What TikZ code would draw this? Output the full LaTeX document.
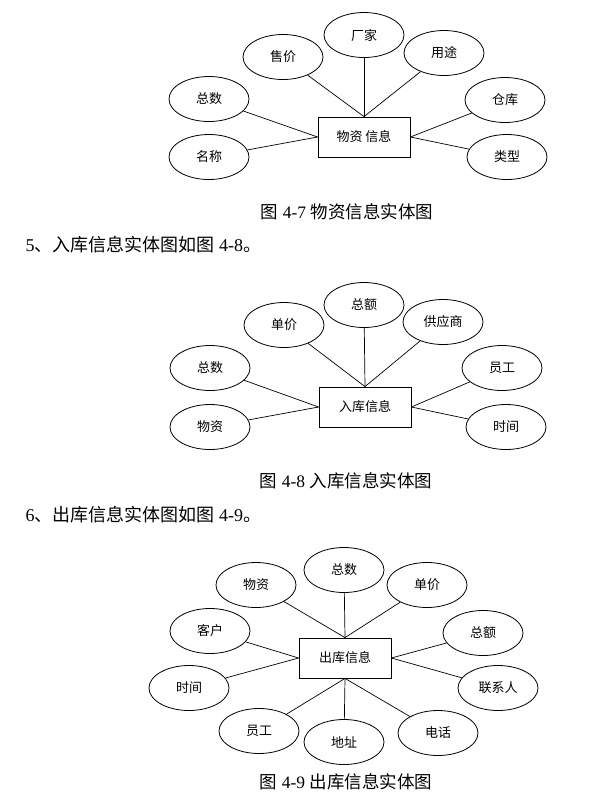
\documentclass[tikz,border=0pt]{standalone}
\usepackage{fontspec}
\setmainfont{Liberation Serif}
\newfontfamily\cjk{Noto Sans CJK SC}
\usetikzlibrary{shapes.geometric}

\begin{document}
\begin{tikzpicture}[
  x=1pt, y=-1pt,
  attr/.style={draw=black, ellipse, line width=0.8pt,
    minimum width=80pt, minimum height=45pt, inner sep=0pt,
    font=\cjk\fontsize{13}{15}\selectfont},
  entity/.style={draw=black, line width=0.8pt,
    minimum width=92pt, minimum height=40pt, inner sep=0pt,
    font=\cjk\fontsize{13}{15}\selectfont},
  link/.style={draw=black, line width=0.7pt},
  figcap/.style={font=\fontsize{17.5}{20}\selectfont},
  para/.style={anchor=west, font=\fontsize{18}{20}\selectfont}
]
\useasboundingbox (0,0) rectangle (609,804);

% figure 4-7
\node[entity] (goods) at (364,137) {物资\hspace{3pt}信息};
\node[attr] (gmaker) at (364,35) {厂家};
\node[attr] (gprice) at (283,57) {售价};
\node[attr] (guse) at (444,53) {用途};
\node[attr] (gtotal) at (209,99) {总数};
\node[attr] (gstore) at (505,100) {仓库};
\node[attr] (gname) at (209,157) {名称};
\node[attr] (gtype) at (507,157) {类型};
\draw[link] (gmaker) -- (goods.north);
\draw[link] (gprice) -- (goods.north);
\draw[link] (guse) -- (goods.north);
\draw[link] (gtotal) -- (goods.west);
\draw[link] (gname) -- (goods.west);
\draw[link] (gstore) -- (goods.east);
\draw[link] (gtype) -- (goods.east);
\node[figcap] (cap7) at (347,212) {{\cjk 图} 4-7 {\cjk 物资信息实体图}};

% figure 4-8
\node[para] (txt8) at (22,245) {5{\cjk 、入库信息实体图如图} 4-8{\cjk 。}};
\node[entity] (stockin) at (365,407) {入库信息};
\node[attr] (iamount) at (364,305) {总额};
\node[attr] (iprice) at (284,325) {单价};
\node[attr] (isupplier) at (443,322) {供应商};
\node[attr] (itotal) at (210,368) {总数};
\node[attr] (istaff) at (502,368) {员工};
\node[attr] (igoods) at (210,427) {物资};
\node[attr] (itime) at (506,427) {时间};
\draw[link] (iamount) -- (stockin.north);
\draw[link] (iprice) -- (stockin.north);
\draw[link] (isupplier) -- (stockin.north);
\draw[link] (itotal) -- (stockin.west);
\draw[link] (igoods) -- (stockin.west);
\draw[link] (istaff) -- (stockin.east);
\draw[link] (itime) -- (stockin.east);
\node[figcap] (cap8) at (346,481) {{\cjk 图} 4-8 {\cjk 入库信息实体图}};

% figure 4-9
\node[para] (txt9) at (22,515) {6{\cjk 、出库信息实体图如图} 4-9{\cjk 。}};
\node[entity] (stockout) at (345,658) {出库信息};
\node[attr] (ototal) at (344,570) {总数};
\node[attr] (ogoods) at (256,585) {物资};
\node[attr] (oprice) at (427,585) {单价};
\node[attr] (oclient) at (210,631) {客户};
\node[attr] (oamount) at (483,633) {总额};
\node[attr] (otime) at (189,688) {时间};
\node[attr] (ocontact) at (498,688) {联系人};
\node[attr] (ostaff) at (259,731) {员工};
\node[attr] (oaddr) at (344,742) {地址};
\node[attr] (ophone) at (438,733) {电话};
\draw[link] (ototal) -- (stockout.north);
\draw[link] (ogoods) -- (stockout.north);
\draw[link] (oprice) -- (stockout.north);
\draw[link] (oclient) -- (stockout.west);
\draw[link] (otime) -- (stockout.west);
\draw[link] (oamount) -- (stockout.east);
\draw[link] (ocontact) -- (stockout.east);
\draw[link] (ostaff) -- (stockout.south);
\draw[link] (oaddr) -- (stockout.south);
\draw[link] (ophone) -- (stockout.south);
\node[figcap] (cap9) at (346,782) {{\cjk 图} 4-9 {\cjk 出库信息实体图}};
\end{tikzpicture}
\end{document}
